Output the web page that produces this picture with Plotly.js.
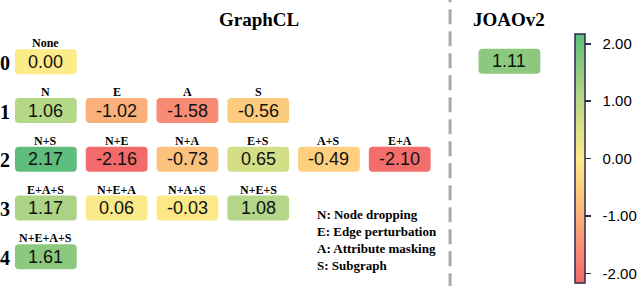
<!DOCTYPE html>
<html><head><meta charset="utf-8">
<script src="https://cdn.plot.ly/plotly-3.0.1.min.js"></script>
<style>html,body{margin:0;padding:0;background:#fff;}#chart{width:638px;height:286px;}</style>
</head><body><div id="chart"></div>
<script>
// ---- data ----
const rowNames = ["0", "1", "2", "3", "4"];
const labels0 = ["None"];
const values0 = [0.00];
const labels1 = ["N", "E", "A", "S"];
const values1 = [1.06, -1.02, -1.58, -0.56];
const labels2 = ["N+S", "N+E", "N+A", "E+S", "A+S", "E+A"];
const values2 = [2.17, -2.16, -0.73, 0.65, -0.49, -2.10];
const labels3 = ["E+A+S", "N+E+A", "N+A+S", "N+E+S"];
const values3 = [1.17, 0.06, -0.03, 1.08];
const labels4 = ["N+E+A+S"];
const values4 = [1.61];
const joaoValue = 1.11;
const panelTitles = ["GraphCL", "JOAOv2"];
const legendLines = ["N: Node dropping", "E: Edge perturbation", "A: Attribute masking", "S: Subgraph"];
const cbTicks = [-2, -1, 0, 1, 2];
const cbTickText = ["-2.00", "-1.00", "0.00", "1.00", "2.00"];

const allLabels = [labels0, labels1, labels2, labels3, labels4];
const allValues = [values0, values1, values2, values3, values4];

// ---- colour scale ----
const cmin = -2.17, cmax = 2.17;
const joaoRange = 1.5;
const stops = [
  [0.0, "#f2696a"], [0.136, "#f98b74"], [0.265, "#f9b07a"], [0.371, "#fdcb7e"],
  [0.5, "#fdea89"], [0.65, "#d3de86"], [0.744, "#b5d788"], [0.871, "#8cc97f"], [1.0, "#5ebd7b"]
];
function hex2rgb(h){return [parseInt(h.substr(1,2),16),parseInt(h.substr(3,2),16),parseInt(h.substr(5,2),16)];}
function colorAt(t){
  t = Math.max(0, Math.min(1, t));
  for (let i = 0; i < stops.length - 1; i++) {
    const [a, ca] = stops[i], [b, cb] = stops[i+1];
    if (t <= b) {
      const f = (t - a) / (b - a), A = hex2rgb(ca), B = hex2rgb(cb);
      return "rgb(" + A.map((v, k) => Math.round(v + (B[k] - v) * f)).join(",") + ")";
    }
  }
  return stops[stops.length-1][1];
}
function colorFor(v, lo, hi){ return colorAt((v - lo) / (hi - lo)); }

// ---- geometry (axis units: 1 column = 71px, 1 row = 48.75px) ----
const PX = 71, PY = 48.75;
const hw = 31 / PX, hh = 12.5 / PY, rx = 4 / PX, ry = 4 / PY;
function rrect(cx, cy){
  const l = cx - hw, r = cx + hw, t = cy - hh, b = cy + hh;
  return `M${l+rx},${t} L${r-rx},${t} Q${r},${t} ${r},${t+ry} L${r},${b-ry} Q${r},${b} ${r-rx},${b} ` +
         `L${l+rx},${b} Q${l},${b} ${l},${b-ry} L${l},${t+ry} Q${l},${t} ${l+rx},${t} Z`;
}

const shapes = [], annotations = [];
const serif = "Times New Roman, Liberation Serif, serif";
const sans = "Arial, Liberation Sans, sans-serif";
const xs = [], ys = [], cs = [];

allValues.forEach((vals, r) => {
  annotations.push({x: -0.575, y: r + 0.02, xref: "x", yref: "y", text: rowNames[r], showarrow: false,
    font: {family: serif, size: 20, weight: "bold", color: "#000"}});
  vals.forEach((v, c) => {
    shapes.push({type: "path", xref: "x", yref: "y", path: rrect(c, r), fillcolor: colorFor(v, cmin, cmax),
      line: {width: 0}, layer: "below"});
    annotations.push({x: c, y: r, xref: "x", yref: "y", text: v.toFixed(2), showarrow: false,
      font: {family: sans, size: 18, color: "#111"}});
    annotations.push({x: c, y: r - 18.5 / PY, xref: "x", yref: "y", text: allLabels[r][c], showarrow: false,
      font: {family: serif, size: 12, weight: "bold", color: "#000"}});
    xs.push(c); ys.push(r); cs.push(v);
  });
});

// JOAOv2 panel
const joaoX = 6.55;
shapes.push({type: "path", xref: "x", yref: "y", path: rrect(joaoX, -0.01), fillcolor: colorFor(joaoValue, -joaoRange, joaoRange),
  line: {width: 0}, layer: "below"});
annotations.push({x: joaoX, y: -0.01, xref: "x", yref: "y", text: joaoValue.toFixed(2), showarrow: false,
  font: {family: sans, size: 18, color: "#111"}});

// titles
annotations.push({x: 3.01, y: -0.87, xref: "x", yref: "y", text: panelTitles[0], showarrow: false,
  font: {family: serif, size: 19, weight: "bold", color: "#000"}});
annotations.push({x: joaoX, y: -0.87, xref: "x", yref: "y", text: panelTitles[1], showarrow: false,
  font: {family: serif, size: 19, weight: "bold", color: "#000"}});

// legend text
annotations.push({x: 3.8, y: 3.655, xref: "x", yref: "y", xanchor: "left", align: "left",
  text: legendLines.join("<br>"), showarrow: false,
  font: {family: serif, size: 13, weight: "bold", color: "#000"}});

// dashed separator
shapes.push({type: "line", xref: "x", yref: "paper", x0: 5.711, x1: 5.711, y0: 1.045, y1: -0.05,
  line: {color: "#aaaaaa", width: 3, dash: "15px,7px"}});

const trace = {
  type: "scatter", mode: "markers", x: xs, y: ys, hoverinfo: "skip",
  marker: {size: 1, opacity: 0, color: cs, cmin: cmin, cmax: cmax,
    colorscale: stops, showscale: true,
    colorbar: {x: 577/638, xanchor: "left", xpad: 0, ypad: 0, y: 1 - 34/286, yanchor: "top",
      lenmode: "pixels", len: 249, thickness: 10, thicknessmode: "pixels",
      outlinecolor: "#2b2a4c", outlinewidth: 1.5,
      tickvals: cbTicks, ticktext: cbTickText.map(t => "\u00a0\u00a0" + t),
      ticks: "outside", ticklen: 6, tickwidth: 1.5,
      tickcolor: "#2b2a4c", tickfont: {family: sans, size: 15, color: "#000"}}}
};

const layout = {
  width: 638, height: 286, margin: {l: 0, r: 0, t: 0, b: 0},
  paper_bgcolor: "#fff", plot_bgcolor: "#fff", showlegend: false,
  xaxis: {range: [-46/PX, (638-46)/PX], visible: false, fixedrange: true},
  yaxis: {range: [(286-61.8)/PY, -61.8/PY], visible: false, fixedrange: true},
  shapes: shapes, annotations: annotations
};
Plotly.newPlot("chart", [trace], layout, {displayModeBar: false, staticPlot: true});
</script></body></html>
